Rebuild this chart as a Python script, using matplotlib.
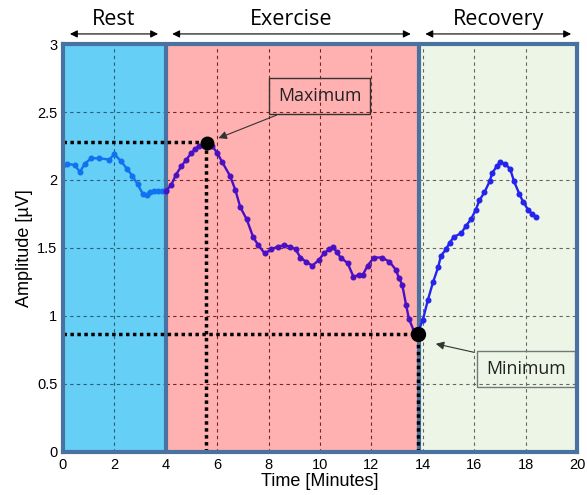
import numpy as np
import matplotlib.pyplot as plt

# ---------------------------------------------------------------------------
# data (time in minutes, amplitude in microvolts)
# ---------------------------------------------------------------------------
rest_t = [0.0, 0.15, 0.45, 0.66, 0.85, 1.1, 1.4, 1.8, 2.0, 2.25, 2.5, 2.7, 2.9,
          3.1, 3.25, 3.4, 3.55, 3.7, 3.85, 4.0]
rest_a = [2.11, 2.12, 2.11, 2.06, 2.12, 2.16, 2.16, 2.15, 2.19, 2.14, 2.08, 2.03,
          1.97, 1.90, 1.89, 1.91, 1.92, 1.92, 1.92, 1.93]

ex_t = [4.0, 4.2, 4.4, 4.6, 4.8, 5.0, 5.15, 5.3, 5.46, 5.6, 5.8, 6.0, 6.2, 6.5,
        6.7, 6.9, 7.15, 7.4, 7.6, 7.85, 8.1, 8.35, 8.6, 8.85, 9.05, 9.24, 9.45,
        9.7, 9.95, 10.15, 10.35, 10.5, 10.65, 10.8, 11.07, 11.3, 11.5, 11.66,
        11.85, 12.1, 12.4, 12.7, 12.95, 13.07, 13.2, 13.35, 13.46, 13.65, 13.8]
ex_a = [1.92, 1.96, 2.04, 2.10, 2.15, 2.20, 2.23, 2.25, 2.26, 2.26, 2.25, 2.20,
        2.13, 2.03, 1.93, 1.80, 1.71, 1.58, 1.52, 1.46, 1.49, 1.51, 1.52, 1.51,
        1.49, 1.43, 1.40, 1.37, 1.41, 1.46, 1.49, 1.51, 1.47, 1.43, 1.39, 1.29,
        1.30, 1.30, 1.37, 1.43, 1.43, 1.40, 1.34, 1.28, 1.23, 1.08, 0.98, 0.89,
        0.87]

rec_t = [13.85, 14.0, 14.2, 14.4, 14.6, 14.7, 14.9, 15.05, 15.2, 15.5, 15.67,
         15.87, 16.06, 16.2, 16.4, 16.6, 16.7, 16.87, 17.0, 17.2, 17.4, 17.55,
         17.75, 17.9, 18.1, 18.25, 18.4]
rec_a = [0.90, 0.97, 1.12, 1.25, 1.36, 1.44, 1.49, 1.54, 1.58, 1.61, 1.66,
         1.71, 1.78, 1.85, 1.91, 1.99, 2.05, 2.10, 2.13, 2.12, 2.08, 1.99,
         1.90, 1.84, 1.78, 1.75, 1.73]

phases = ["Rest", "Exercise", "Recovery"]
phase_edges = [0, 4, 13.85, 20]

max_t, max_a = 5.55, 2.27
min_t, min_a = 13.8, 0.87

# ---------------------------------------------------------------------------
# figure
# ---------------------------------------------------------------------------
fig = plt.figure(figsize=(5.87, 4.95), dpi=100)
ax = fig.add_axes([0.1073, 0.0869, 0.8757, 0.8242])
ax.set_xlim(0, 20)
ax.set_ylim(0, 3)

frame = "#4a72a0"
bg_colors = ["#66cff5", "#ffb0b0", "#edf5e6"]
grid_colors = ["#2a5f80", "#7a2222", "#666666"]

# phase backgrounds and region-specific grid lines
for i in range(3):
    x0, x1 = phase_edges[i], phase_edges[i + 1]
    ax.axvspan(x0, x1, color=bg_colors[i], zorder=0, lw=0)
    for gy in [0.5, 1.0, 1.5, 2.0, 2.5]:
        ax.plot([x0, x1], [gy, gy], color=grid_colors[i], lw=0.8,
                ls=(0, (3, 3)), zorder=1)
    for gx in range(2, 20, 2):
        if x0 < gx < x1:
            ax.plot([gx, gx], [0, 3], color=grid_colors[i], lw=0.8,
                    ls=(0, (3, 3)), zorder=1)

for edge in phase_edges[1:3]:
    ax.axvline(edge, color=frame, lw=3, zorder=2)

# guide lines to the extremes
ax.plot([0, max_t], [max_a + 0.01, max_a + 0.01], color="black", lw=2.5,
        ls=(0, (1, 1)), zorder=3)
ax.plot([max_t, max_t], [0, max_a], color="black", lw=2.5,
        ls=(0, (1, 1)), zorder=3)
ax.plot([0, min_t], [min_a, min_a], color="black", lw=2.5,
        ls=(0, (1, 1)), zorder=3)
ax.plot([min_t, min_t], [0, min_a], color="black", lw=2.5,
        ls=(0, (1, 1)), zorder=3)

# signal
ax.plot(rest_t, rest_a, color="#0f72f0", lw=1.7, marker="o", ms=3.3, zorder=4)
ax.plot(ex_t, ex_a, color="#4a10c4", lw=1.7, marker="o", ms=3.3, zorder=4)
ax.plot(rec_t, rec_a, color="#2424ee", lw=1.7, marker="o", ms=3.3, zorder=4)

ax.plot([max_t + 0.05], [max_a], "o", color="black", ms=9, zorder=5)
ax.plot([min_t], [min_a], "o", color="black", ms=10, zorder=5)

# callouts (transparent boxes, grid shows through)
ax.annotate("Maximum", xy=(5.95, 2.3), xytext=(9.98, 2.62),
            ha="center", va="center", family="Open Sans", fontsize=12.8, zorder=2,
            color="#222222",
            bbox=dict(boxstyle="square,pad=0.5", fc="none", ec="#333333", lw=1.0),
            arrowprops=dict(arrowstyle="-|>", color="#333333", lw=0.8,
                            mutation_scale=12, relpos=(0.3, 0.0)))
ax.annotate("Minimum", xy=(14.4, 0.8), xytext=(18.02, 0.61),
            ha="center", va="center", family="Open Sans", fontsize=12.8, zorder=2,
            color="#222222",
            bbox=dict(boxstyle="square,pad=0.5", fc="none", ec="#777777", lw=1.0),
            arrowprops=dict(arrowstyle="-|>", color="#333333", lw=0.8,
                            mutation_scale=12, relpos=(0.28, 1.0)))

# phase headers with double arrows above the axes
arrow_spans = [(0.27, 3.7), (4.25, 13.53), (14.1, 19.77)]
for name, (a0, a1) in zip(phases, arrow_spans):
    ax.annotate("", xy=(a1, 3.074), xytext=(a0, 3.074), annotation_clip=False,
                arrowprops=dict(arrowstyle="<|-|>", color="black", lw=0.8,
                                mutation_scale=11, shrinkA=0, shrinkB=0))
    ax.text((a0 + a1) / 2, 3.18, name, ha="center", va="center",
            family="Open Sans", fontsize=15.5, clip_on=False)

for s in ax.spines.values():
    s.set_color(frame)
    s.set_linewidth(3)
    s.set_zorder(7)

ax.set_xticks(range(0, 21, 2))
ax.set_yticks([0, 0.5, 1, 1.5, 2, 2.5, 3])
ax.set_yticklabels(["0", "0.5", "1", "1.5", "2", "2.5", "3"])
ax.tick_params(length=0, labelsize=10.5, pad=4)
for lab in ax.get_xticklabels() + ax.get_yticklabels():
    lab.set_family("Liberation Sans")

ax.set_xlabel("Time [Minutes]", family="Liberation Sans", fontsize=13, labelpad=1)
ax.set_ylabel("Amplitude [\u00b5V]", family="Liberation Sans", fontsize=13, labelpad=3)

fig.savefig("out.png", dpi=100)
